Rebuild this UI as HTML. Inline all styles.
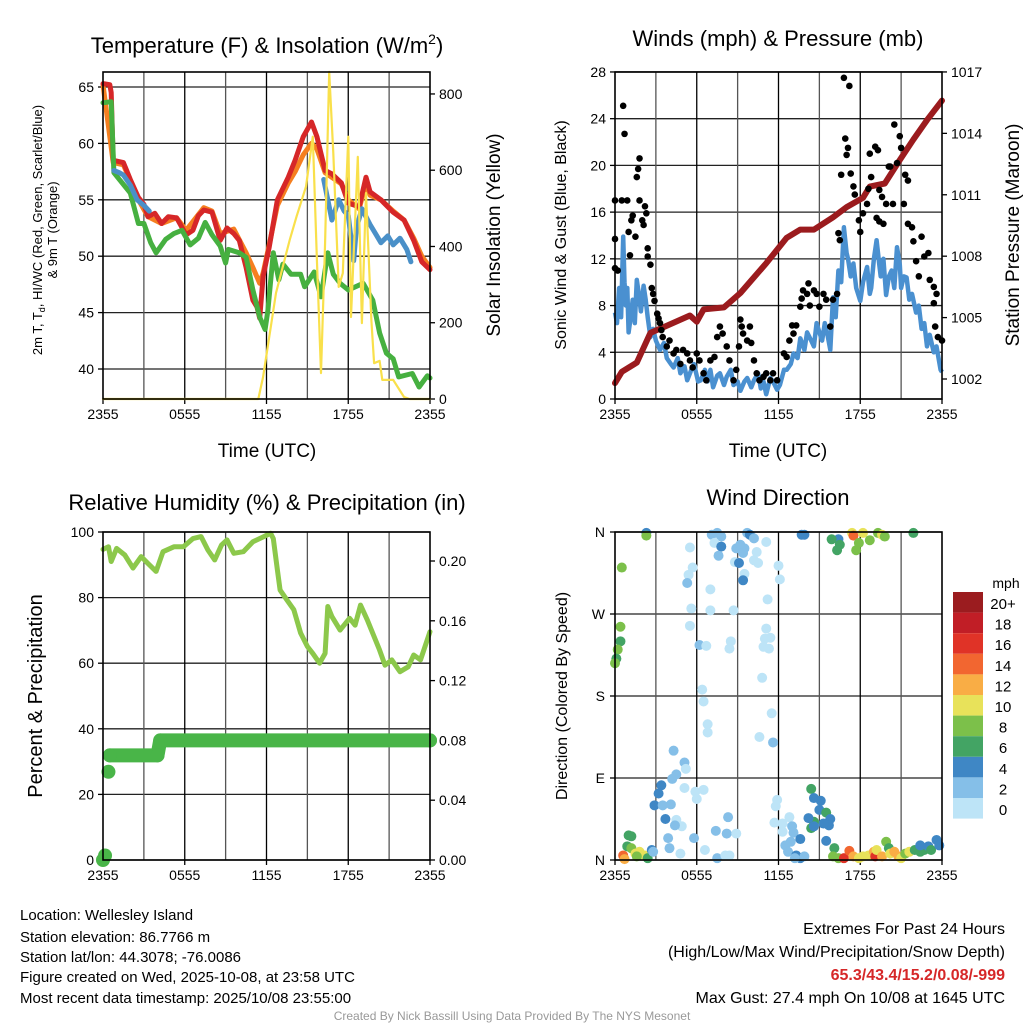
<!DOCTYPE html>
<html><head><meta charset="utf-8"><style>
html,body{margin:0;padding:0;background:#fff}
svg{display:block;font-family:"Liberation Sans",sans-serif}
</style></head><body>
<svg id="fig" width="1024" height="1024" viewBox="0 0 1024 1024" xmlns="http://www.w3.org/2000/svg">
<g id="p1"></g>
<g id="p2"></g>
<g id="p3"></g>
<g id="p4"></g>
<text x="267" y="53" font-size="22" text-anchor="middle">Temperature (F) &amp; Insolation (W/m<tspan font-size="14" dy="-9">2</tspan><tspan dy="9">)</tspan></text>
<text x="778" y="46" font-size="22" text-anchor="middle">Winds (mph) &amp; Pressure (mb)</text>
<text x="267" y="510" font-size="22" text-anchor="middle">Relative Humidity (%) &amp; Precipitation (in)</text>
<text x="778" y="505" font-size="22" text-anchor="middle">Wind Direction</text>
<text x="267" y="457" font-size="19" text-anchor="middle">Time (UTC)</text>
<text x="778" y="457" font-size="19" text-anchor="middle">Time (UTC)</text>
<text transform="translate(42,230) rotate(-90)" font-size="13" text-anchor="middle">2m T, T<tspan font-size="9" dy="3">d</tspan><tspan dy="-3">, HI/WC (Red, Green, Scarlet/Blue)</tspan></text>
<text transform="translate(57,230) rotate(-90)" font-size="13" text-anchor="middle">&amp; 9m T (Orange)</text>
<text transform="translate(500,235) rotate(-90)" font-size="19" text-anchor="middle">Solar Insolation (Yellow)</text>
<text transform="translate(566,235) rotate(-90)" font-size="16" text-anchor="middle">Sonic Wind &amp; Gust (Blue, Black)</text>
<text transform="translate(1019,235) rotate(-90)" font-size="19" text-anchor="middle">Station Pressure (Maroon)</text>
<text transform="translate(42,696) rotate(-90)" font-size="20" text-anchor="middle">Percent &amp; Precipitation</text>
<text transform="translate(567,696) rotate(-90)" font-size="16" text-anchor="middle">Direction (Colored By Speed)</text>
<g font-size="15">
<text x="20" y="920">Location: Wellesley Island</text>
<text x="20" y="942">Station elevation: 86.7766 m</text>
<text x="20" y="962">Station lat/lon: 44.3078; -76.0086</text>
<text x="20" y="982">Figure created on Wed, 2025-10-08, at 23:58 UTC</text>
<text x="20" y="1003">Most recent data timestamp: 2025/10/08 23:55:00</text>
</g>
<g font-size="16" text-anchor="end">
<text x="1005" y="934">Extremes For Past 24 Hours</text>
<text x="1005" y="957">(High/Low/Max Wind/Precipitation/Snow Depth)</text>
<text x="1005" y="980" fill="#d62728" font-weight="bold">65.3/43.4/15.2/0.08/-999</text>
<text x="1005" y="1003">Max Gust: 27.4 mph On 10/08 at 1645 UTC</text>
</g>
<text x="512" y="1020" font-size="12" fill="#999" text-anchor="middle">Created By Nick Bassill Using Data Provided By The NYS Mesonet</text>
</svg>
<script>
// ---- Panel 1 data ----
const tempRedH=[0,0.5,0.6,0.75,1.5,2.0,2.6,3.0,3.3,3.8,4.3,4.8,5.4,6.1,6.6,7.0,7.4,8.0,8.6,9.1,9.6,10,10.5,11,11.3,11.5,11.75,12.2,12.8,13.6,14.1,14.7,15.3,15.7,16.3,16.8,17.5,18.0,18.8,19.3,19.6,20.4,21.3,22.1,22.8,23.4,24];
const tempRedV=[65.3,65.2,64.5,58.5,58.3,56.8,55.2,54.6,53.5,53.8,52.9,53.5,53.4,51.9,52.3,53.6,54.1,53.9,51.4,52.5,52,51.4,49.0,46.1,45.5,44.5,48.2,50.8,55,57.0,58.5,60.6,61.9,60.6,57.6,57.3,56.5,54.7,54.4,57.0,55.7,55,53.9,53.2,51.4,49.5,48.8];
const temp9mH=[0,0.75,1.5,2.6,3.3,4.3,5.4,6.1,7.4,8.0,8.6,9.6,10.5,11,11.5,11.75,12.2,12.8,13.6,14.1,14.7,15.3,15.7,16.3,17.5,18.0,18.8,19.3,19.6,20.4,21.3,22.1,22.8,23.4,24];
const temp9mV=[65.2,58.3,58.1,55,53.5,52.9,53.4,52.3,54.3,54,52,52.4,50.3,49,47.6,48.5,51,54.5,56.5,57.5,59,60,59.5,57.4,56.4,55,54.2,56.5,55.4,55,54,53.2,51.6,50,49];
const dewH=[0,0.6,0.8,2,2.6,3.0,3.5,3.9,4.6,5.2,5.8,6.4,7.0,7.5,8.0,8.6,9,9.2,10,10.5,11,11.5,11.9,12.1,12.5,12.9,13.2,13.8,14.5,14.8,15.5,16,16.5,16.9,17.4,18,19.1,19.8,20.3,20.8,21.3,21.7,22.7,23.2,23.8,24];
const dewV=[63.6,63.7,57.4,55.6,52.9,52.9,51.2,50.3,51.5,52.0,52.3,51.0,51.6,53.0,51.9,50.9,49.4,50.6,50.3,49.9,47.0,44.6,43.5,45.2,50.3,47.9,49.3,48.4,48.4,47.3,48.6,46.4,50.3,48.4,47.6,47.0,47.6,46.1,43.2,41.4,40.9,39.3,39.6,38.4,39.4,39.2];
const feelH=[0.8,1.2,1.5,2.0,2.5,3.0,3.4,null,16.2,16.5,16.8,17.3,17.7,18.0,18.4,18.6,19.0,19.6,20.0,20.4,20.9,21.3,21.8,22.3,22.6];
const feelV=[57.6,57.4,57.2,56.3,55.0,54.5,54.0,null,56.8,55.0,53.2,55.0,54.0,53.6,49.6,52.5,54.2,52.8,52.0,51.2,51.8,51.0,51.6,50.6,49.5];
const solarH=[0,11.4,11.75,12.7,13.7,14.2,14.9,15.4,15.7,16.0,16.3,16.6,16.9,17.3,17.6,18.0,18.2,18.7,19.0,19.3,19.7,19.9,20.3,20.5,21.3,22.1,22.5,24];
const solarV=[0,0,58,278,417,478,557,688,365,68,410,858,645,294,330,688,215,635,199,540,205,94,100,50,50,5,0,0];
const tempTicks=[40,45,50,55,60,65];
const solarTicks=[0,200,400,600,800];
const timeLabels=["2355","0555","1155","1755","2355"];
// ---- Panel 2 data ----
const presH=[0,0.5,1.6,2.6,3.8,5.5,6.0,6.5,8.0,9.2,11.1,12.6,13.6,14.6,16.0,17.0,18.2,18.7,19.8,20.9,21.9,22.9,24];
const presV=[1001.8,1002.35,1002.8,1004.25,1004.6,1005.1,1004.8,1005.4,1005.5,1006.2,1007.65,1008.9,1009.3,1009.3,1009.9,1010.4,1010.85,1011.4,1011.55,1012.7,1013.7,1014.65,1015.6];
const windH=[0,0.15,0.3,0.45,0.6,0.7,0.8,0.9,1.0,1.15,1.3,1.45,1.6,1.75,1.9,2.1,2.25,2.4,2.6,2.8,3.0,3.3,3.6,3.8,4.1,4.3,4.6,4.8,5.1,5.3,5.6,5.8,6.1,6.3,6.6,6.8,7.0,7.2,7.5,7.7,8.0,8.2,8.5,8.7,9.0,9.2,9.5,9.7,10.0,10.2,10.5,10.7,10.9,11.1,11.4,11.6,11.9,12.1,12.4,12.6,12.9,13.1,13.4,13.6,13.9,14.1,14.4,14.6,14.8,15.0,15.2,15.4,15.6,15.8,16.0,16.2,16.4,16.6,16.8,17.0,17.1,17.3,17.5,17.7,18.0,18.2,18.5,18.7,18.8,19.0,19.2,19.4,19.5,19.7,19.9,20.1,20.3,20.5,20.7,20.9,21.0,21.2,21.4,21.6,21.8,22.1,22.3,22.5,22.7,22.9,23.1,23.4,23.6,23.9,24];
const windV=[7.4,6.5,9.5,7.0,13.9,10.0,8.0,9.5,5.7,7.0,8.5,6.5,10.2,9.0,7.5,9.7,8.5,7.0,5.3,6.0,5.0,4.2,4.8,3.5,3.0,2.7,3.5,2.2,2.8,1.6,2.5,3.0,1.5,1.6,2.5,1.5,2.5,1.0,2.0,2.2,1.2,1.9,2.5,1.2,1.5,0.7,1.5,1.8,1.0,1.6,2.2,0.9,1.5,0.4,1.8,1.5,0.8,1.2,2.5,2.5,3.0,3.9,3.5,5.2,4.2,5.7,5.0,4.5,6.5,5.7,5.0,6.5,5.5,4.2,8.7,7.0,11.0,10.0,14.7,12.5,12.0,10.5,11.6,9.5,8.4,10.0,11.3,9.0,9.5,12.0,13.6,11.5,10.5,12.0,8.9,10.5,11.0,9.5,13.0,11.5,9.5,10.5,10.4,8.5,9.0,7.4,8.0,6.0,6.5,4.5,5.5,4.0,4.5,2.5,2.3];
const gustH=[0,0,0,0.2,0.6,0.7,0.5,0.9,1.0,1.1,1.2,1.3,1.5,1.6,1.7,1.8,1.8,2.0,2.1,2.2,2.3,2.4,2.4,2.6,2.7,2.8,2.9,3.1,3.2,3.3,3.4,3.5,3.8,4.0,4.3,4.5,4.8,5.0,5.3,5.5,5.7,6.0,6.2,6.5,6.7,7.0,7.3,7.5,7.7,7.9,8.2,8.4,8.7,8.9,9.1,9.2,9.3,9.4,9.7,9.9,10.0,10.2,10.4,10.6,10.9,11.1,11.4,11.6,11.9,12.4,12.6,12.8,13.0,13.1,13.3,13.6,13.7,13.8,14.1,14.2,14.3,14.6,14.8,15.0,15.3,15.5,15.8,16.0,16.3,16.4,16.5,16.6,16.8,16.9,17.0,17.1,17.2,17.3,17.5,17.6,17.9,18.0,18.2,18.5,18.6,18.7,18.8,19.1,19.3,19.4,19.6,19.2,19.4,19.7,19.9,20.1,20.2,20.4,20.5,20.7,20.9,21.0,21.2,21.3,21.5,21.5,21.8,21.9,22.1,22.3,22.5,22.7,23.0,23.1,23.4,23.5,23.7,24.0,23.4,23.6];
const gustV=[17.0,13.7,11.2,11.0,25.1,22.7,17.0,17.0,14.3,12.3,15.3,15.7,13.9,19.0,19.7,20.6,17.0,15.3,14.9,16.5,15.9,12.9,12.2,11.5,9.5,9.0,8.4,7.3,6.9,6.5,5.9,5.3,4.5,5.0,3.9,4.2,3.0,4.2,3.9,3.3,2.7,3.9,3.3,2.2,1.6,3.3,3.6,5.3,6.2,5.6,4.5,3.3,1.6,2.5,4.5,6.8,6.2,5.6,5.0,6.2,4.8,3.3,2.2,1.6,1.9,2.2,1.6,2.2,1.6,3.9,3.6,5.0,6.3,5.6,6.3,7.9,8.6,9.3,9.0,9.9,8.0,9.3,9.0,7.9,9.0,8.5,6.2,8.5,9.0,14.2,13.6,19.2,27.5,22.3,20.9,21.5,26.8,19.3,18.2,17.5,15.3,14.3,15.9,16.7,18.0,21.0,19.0,21.6,21.3,17.9,17.3,15.5,15.2,15.0,16.7,19.9,19.9,16.7,23.5,20.2,22.5,21.5,16.7,19.2,18.7,15.0,14.7,13.5,11.8,10.5,13.9,12.2,12.5,10.2,8.2,6.2,5.3,5.0,9.6,9.0];
const windTicks=[0,4,8,12,16,20,24,28];
const presTicks=[1002,1005,1008,1011,1014,1017];
// ---- Panel 3 data ----
const rhH=[0,0.4,0.6,1.0,1.6,2.2,2.8,3.3,3.9,4.4,5.2,5.9,6.6,7.2,7.7,8.2,8.7,9.1,9.6,10.3,11.0,11.8,12.3,12.5,12.8,13.0,13.5,14.0,14.5,15.0,15.4,15.9,16.3,16.5,16.8,17.4,18.1,18.5,18.9,19.4,19.8,20.3,20.7,21.2,21.8,22.4,22.8,23.3,24];
const rhV=[94.7,95.5,91,95,93,89,92.5,90.4,88,94,95.5,95.5,98,98.6,94.5,91.5,96,97.6,93.5,94,97,98.6,99.6,98,88.4,82.3,79.3,76.3,69.2,65.1,63.0,60.0,63,77.3,74.2,70.1,73.7,71.6,77.7,73.2,69.1,64.0,59.4,61.0,57.4,58.9,62.5,61.0,69.6];
const precipH=[0,0.15,0.4,0.5,4.0,4.2,24];
const precipV=[0,0.003,0.059,0.07,0.07,0.08,0.08];
const rhTicks=[0,20,40,60,80,100];
const precipTicks=[0,0.04,0.08,0.12,0.16,0.20];
// ---- Panel 4 data ----
const dirH=[2.3,2.3,0.5,0.4,0.4,0.2,0.1,0.0,5.5,5.4,5.7,5.3,7.0,5.6,5.5,7.0,8.7,7.1,7.5,7.8,7.3,7.8,7.6,8.9,9.2,9.7,9.9,10.2,9.5,9.4,8.8,9.1,10.4,10.2,10.5,11.1,12.0,12.1,9.5,9.4,11.2,11.1,11.0,11.4,10.9,11.3,8.5,8.4,6.2,6.7,6.4,6.5,6.8,6.8,10.8,11.5,10.6,11.6,4.3,5.1,5.2,4.5,4.2,3.4,3.2,2.9,3.5,4.1,5.1,5.9,6.5,6.0,3.7,4.5,4.9,4.4,3.9,4.0,5.8,6.6,4.8,7.4,8.2,8.9,8.3,7.5,8.1,8.4,11.9,11.8,12.8,11.7,12.3,13.0,13.1,12.3,12.9,13.6,12.5,12.7,13.3,13.6,13.2,13.9,14.4,14.6,15.1,15.0,15.5,15.8,15.7,15.3,14.6,14.4,14.2,14.6,15.5,13.9,13.7,16.4,15.9,16.5,16.3,17.4,17.5,17.9,17.7,18.2,18.7,19.3,19.6,19.8,21.9,16.1,16.0,16.4,16.8,17.2,17.5,17.9,18.2,18.6,19.0,19.1,19.2,19.6,19.9,20.1,20.2,20.5,20.8,21.0,21.3,21.6,22.0,22.4,22.7,23.0,23.2,23.6,23.8,22.4,0.6,0.7,1.0,1.2,0.9,1.2,1.5,1.8,2.2,2.4,2.7,2.8,1.6];
const dirV=[359,356,321,256,240,231,221,216,343,313,321,304,297,276,257,274,274,357,359,355,348,344,334,342,346,359,357,353,342,337,327,326,338,329,326,349,323,308,314,307,286,254,243,244,234,232,240,232,236,235,187,174,149,140,200,161,135,129,120,107,100,94,89,82,73,60,60,61,79,75,77,67,45,44,37,38,24,13,24,11,7,32,29,29,47,2,5,5,66,59,47,41,40,37,30,31,20,23,16,9,5,2,2,4,78,68,65,55,52,45,38,40,42,35,46,37,21,357,357,352,352,346,340,359,356,348,340,359,351,359,357,355,359,13,4,2,2,10,4,2,4,5,9,4,11,4,20,13,7,9,4,2,7,9,11,9,11,15,11,22,16,16,5,1,27,26,15,13,7,9,5,2,11,9,4];
const dirSpd=[4,8,8,8,6,8,6,8,1,1,1,2,1,0,1,0,0,2,2,2,1,4,3,3,2,2,4,2,2,2,1,4,1,1,1,1,1,1,1,4,0,1,1,1,1,1,0,1,2,1,1,0,1,1,0,0,0,2,2,2,1,3,2,4,4,4,2,2,1,1,0,1,4,1,1,2,2,2,3,0,1,3,2,1,3,3,1,0,1,1,0,0,1,3,2,0,2,4,2,2,4,4,3,3,6,4,4,4,6,4,4,4,6,6,4,4,4,4,4,4,6,6,6,10,15,8,8,10,8,8,10,8,6,6,8,8,16,15,12,10,10,11,13,16,10,12,8,6,10,12,12,10,8,10,6,6,6,4,6,4,4,4,15,12,6,6,6,8,10,10,10,6,4,2,8];
const dirLabels=["N","E","S","W","N"];
const speedBins=["0","2","4","6","8","10","12","14","16","18","20+"];
const speedColors=["#bde4f7","#85bfe8","#3f87c5","#43a464","#7cc04a","#e8e25a","#f9ad45","#f26630","#e03327","#c11e26","#9b1c1f"];

const NS="http://www.w3.org/2000/svg";
function mk(parent,tag,attrs){const e=document.createElementNS(NS,tag);for(const k in attrs)e.setAttribute(k,attrs[k]);parent.appendChild(e);return e;}
function pathFrom(hs,vs,sx,sy){let d="",pen=false;for(let i=0;i<hs.length;i++){if(hs[i]===null){pen=false;continue;}d+=(pen?"L":"M")+sx(hs[i]).toFixed(1)+" "+sy(vs[i]).toFixed(1);pen=true;}return d;}
function frame(g,x0,x1,y0,y1,timeTicks){
  for(let h=3;h<24;h+=3){const x=x0+(x1-x0)*h/24;const l=mk(g,"line",{x1:x,x2:x,y1:y0,y2:y1,stroke:(h%6==0?"#000":"#555"),"stroke-width":1.3});
  
  }
  if(timeTicks){for(let i=0;i<5;i++){const x=x0+(x1-x0)*i/4;mk(g,"line",{x1:x,x2:x,y1:y1,y2:y1+5,stroke:"#000","stroke-width":1.3});
   const t=mk(g,"text",{x:x,y:y1+20,"font-size":14,"text-anchor":"middle"});t.textContent=timeLabels[i];
   
   }}
}
function border(g,x0,x1,y0,y1){const r=mk(g,"rect",{x:x0,y:y0,width:x1-x0,height:y1-y0,fill:"none",stroke:"#000","stroke-width":1.6});
 
 }
function hgrid(g,x0,x1,ys){ys.forEach(y=>{const l=mk(g,"line",{x1:x0,x2:x1,y1:y,y2:y,stroke:"#222","stroke-width":1.3});
 
 });}
function yTicks(g,x,side,vals,sy,fmt,size){vals.forEach(v=>{const y=sy(v);mk(g,"line",{x1:x,x2:x+side*5,y1:y,y2:y,stroke:"#000","stroke-width":1.3});
 const t=mk(g,"text",{x:x+side*9,y:y+5,"font-size":size||14,"text-anchor":side<0?"end":"start"});t.textContent=fmt(v);
 
 });}

// Panel 1
(function(){const g=document.getElementById("p1");const X0=103,X1=430,Y0=72,Y1=399;
const sx=h=>X0+(X1-X0)*h/24, sy=t=>369-(t-40)*11.28, ss=s=>399-s*0.3813;
hgrid(g,X0,X1,tempTicks.map(sy));frame(g,X0,X1,Y0,Y1,true);
yTicks(g,X0,-1,tempTicks,sy,v=>v);yTicks(g,X1,1,solarTicks,ss,v=>v);
const series=[[solarH,solarV,ss,"#f9e04b",2.2,"solar-line"],[dewH,dewV,sy,"#46b040",5,"dewpoint-line"],[temp9mH,temp9mV,sy,"#f57f20",5,"temp-9m-line"],[tempRedH,tempRedV,sy,"#d62728",5,"temp-2m-line"],[feelH,feelV,sy,"#4a90c8",5,"feels-like-line"]];
const order=[2,3,1,4,0];
order.forEach(i=>{const s=series[i];const p=mk(g,"path",{d:pathFrom(s[0],s[1],sx,s[2]),fill:"none",stroke:s[3],"stroke-width":s[4],"stroke-linejoin":"round","stroke-linecap":"round"});
 
 });
border(g,X0,X1,Y0,Y1);})();

// Panel 2
(function(){const g=document.getElementById("p2");const X0=615,X1=942,Y0=72,Y1=399;
const sx=h=>X0+(X1-X0)*h/24, sy=w=>399-w*11.68, sp=p=>379-(p-1002)*20.47;
hgrid(g,X0,X1,windTicks.map(sy));frame(g,X0,X1,Y0,Y1,true);
yTicks(g,X0,-1,windTicks,sy,v=>v);yTicks(g,X1,1,presTicks,sp,v=>v);
const w=mk(g,"path",{d:pathFrom(windH,windV,sx,sy),fill:"none",stroke:"#4a90d0","stroke-width":4.5,"stroke-linejoin":"round"});


const p=mk(g,"path",{d:pathFrom(presH,presV,sx,sp),fill:"none",stroke:"#9b1b1e","stroke-width":6,"stroke-linejoin":"round","stroke-linecap":"round"});


gustH.forEach((h,i)=>{const c=mk(g,"circle",{cx:sx(h),cy:sy(gustV[i]),r:3.3,fill:"#000"});
 
 });
border(g,X0,X1,Y0,Y1);})();

// Panel 3
(function(){const g=document.getElementById("p3");const X0=103,X1=430,Y0=532,Y1=860;
const sx=h=>X0+(X1-X0)*h/24, sy=v=>860-v*3.28, sp=v=>860-v*1495;
hgrid(g,X0,X1,rhTicks.map(sy));frame(g,X0,X1,Y0,Y1,true);
yTicks(g,X0,-1,rhTicks,sy,v=>v);yTicks(g,X1,1,precipTicks,sp,v=>v.toFixed(2));
const r=mk(g,"path",{d:pathFrom(rhH,rhV,sx,sy),fill:"none",stroke:"#8cc84b","stroke-width":5,"stroke-linejoin":"round","stroke-linecap":"round"});


const pl=mk(g,"path",{d:pathFrom(precipH.slice(3),precipV.slice(3),sx,sp),fill:"none",stroke:"#49b548","stroke-width":14,"stroke-linejoin":"round","stroke-linecap":"round"});


precipH.forEach((h,i)=>{const c=mk(g,"circle",{cx:sx(h),cy:sp(precipV[i]),r:7,fill:"#49b548"});
 
 });
border(g,X0,X1,Y0,Y1);})();

// Panel 4
(function(){const g=document.getElementById("p4");const X0=615,X1=942,Y0=532,Y1=860;
const sx=h=>X0+(X1-X0)*h/24, sy=d=>860-d*(328/360);
hgrid(g,X0,X1,[0,90,180,270,360].map(sy));frame(g,X0,X1,Y0,Y1,true);
[0,90,180,270,360].forEach((d,i)=>{const y=sy(d);mk(g,"line",{x1:X0,x2:X0-5,y1:y,y2:y,stroke:"#000","stroke-width":1.3});
 const t=mk(g,"text",{x:X0-10,y:y+5,"font-size":14,"text-anchor":"end"});t.textContent=dirLabels[i];
 
 });
dirH.forEach((h,i)=>{const b=Math.min(10,Math.floor(dirSpd[i]/2));const c=mk(g,"circle",{cx:sx(h),cy:sy(dirV[i]),r:5,fill:speedColors[b]});
 
 });
border(g,X0,X1,Y0,Y1);
const lt=mk(g,"text",{x:1006,y:588,"font-size":14,"text-anchor":"middle"});lt.textContent="mph";


for(let k=10;k>=0;k--){const y=592+(10-k)*20.6;const r=mk(g,"rect",{x:953,y:y,width:30,height:20.6,fill:speedColors[k]});
 
 
 const t=mk(g,"text",{x:1003,y:y+17,"font-size":15,"text-anchor":"middle"});t.textContent=speedBins[k];
 
 }
})();
</script>
</body></html>
